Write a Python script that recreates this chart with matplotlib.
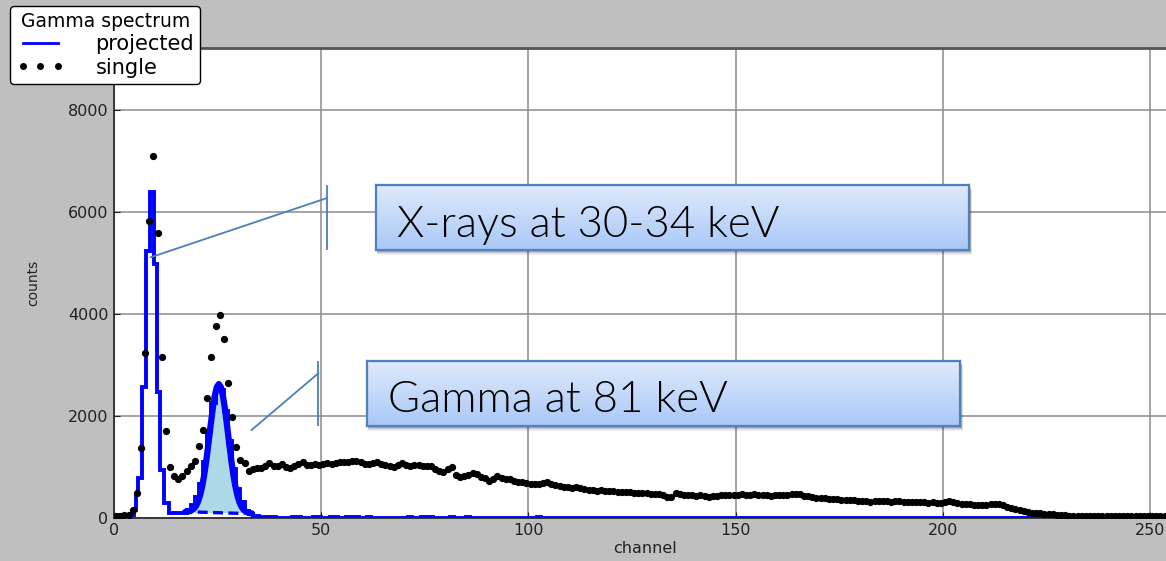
import numpy as np
import matplotlib
matplotlib.use("Agg")
import matplotlib.pyplot as plt
from matplotlib.lines import Line2D
from matplotlib.patches import Rectangle

# single-detector spectrum, one value per channel (plotted at bin centres)
single_counts = [
    30, 35, 40, 55, 147, 481, 1371, 3238, 5825, 7108,
    5584, 3159, 1699, 998, 821, 762, 810, 910, 1012, 1110,
    1411, 1725, 2348, 3147, 3768, 3972, 3513, 2648, 1969, 1391,
    1130, 1065, 920, 947, 965, 978, 1018, 1065, 1010, 1018,
    1045, 990, 966, 1010, 1060, 1097, 1040, 1025, 1050, 1031,
    1050, 1070, 1060, 1065, 1085, 1090, 1100, 1105, 1110, 1095,
    1060, 1045, 1070, 1084, 1060, 1040, 1020, 998, 1040, 1065,
    1040, 1020, 1035, 1031, 1010, 1015, 1012, 960, 920, 900,
    945, 986, 840, 790, 810, 840, 868, 850, 800, 770,
    723, 760, 815, 780, 760, 750, 720, 700, 690, 672,
    665, 660, 658, 670, 690, 650, 640, 620, 600, 590,
    574, 590, 575, 555, 540, 545, 530, 535, 521, 530,
    515, 510, 507, 500, 495, 490, 488, 475, 480, 470,
    462, 465, 440, 400, 410, 475, 460, 450, 445, 442,
    430, 440, 420, 409, 420, 430, 435, 440, 438, 440,
    442, 460, 440, 450, 462, 440, 450, 445, 430, 440,
    435, 440, 450, 455, 462, 470, 430, 415, 400, 390,
    380, 375, 370, 357, 360, 350, 340, 345, 335, 320,
    315, 325, 311, 320, 315, 325, 320, 310, 320, 315,
    305, 311, 300, 305, 295, 300, 290, 295, 290, 291,
    300, 330, 300, 280, 270, 260, 265, 255, 245, 250,
    255, 260, 270, 265, 240, 215, 190, 161, 145, 130,
    115, 95, 88, 80, 72, 65, 60, 52, 45, 40,
    35, 32, 30, 30, 30, 30, 30, 30, 30, 30,
    30, 30, 30, 30, 30, 30, 30, 30, 30, 30,
    30, 30, 30, 30, 30, 30,
]

# projected (coincidence-gated) spectrum: irregular bins over the peaks
proj_edges_peak = [0, 4.9, 5.4, 5.85, 6.85, 7.65, 8.8, 9.6, 10.3, 11.2, 12.0,
                   13.2, 17.5, 18.5, 19.5, 20.5, 21.5, 22.5, 23.5, 24.5, 25.5,
                   26.5, 27.5, 28.5, 29.5, 30.5, 31.5, 32.5, 33.5, 35]
proj_counts_peak = [40, 150, 470, 780, 2560, 5230, 6400, 4990, 2460, 930, 290,
                    80, 150, 250, 400, 650, 1100, 1700, 2250, 2550, 2500, 2100,
                    1500, 950, 560, 300, 130, 60, 30]
# above channel 35 the projection is almost empty, a few single counts
proj_tail_channels = [35, 36, 37, 38, 43, 44, 48, 49, 52, 53, 56, 57, 58, 61,
                      71, 74, 75, 76, 81, 85, 102]
proj_tail_level = 15

# gaussian fit of the 81 keV line (sampled) and its linear background
fit_x = np.arange(17.3, 33.35, 0.5)
fit_y = [115, 119, 128, 146, 177, 231, 317, 444, 622, 854, 1138, 1462, 1800,
         2121, 2386, 2561, 2622, 2559, 2382, 2114, 1791, 1451, 1125, 838, 604,
         424, 294, 206, 150, 116, 96, 85, 79]
bg_x = [16.5, 31.5]
bg_y = [115, 78]
fill_lo, fill_hi = 19.5, 31.5
fill_base = 90

n_ch = len(single_counts)
channels = np.arange(n_ch)
tail_edges = np.arange(35, n_ch + 1)
tail_counts = np.zeros(len(tail_edges) - 1)
tail_counts[np.array(proj_tail_channels) - 35] = proj_tail_level
proj_edges = np.concatenate([proj_edges_peak, tail_edges[1:]])
proj_counts = np.concatenate([proj_counts_peak, tail_counts])

W, H = 1166, 561
fig = plt.figure(figsize=(W / 100, H / 100), dpi=100, facecolor="#bfbfbf")
ax = fig.add_axes([114 / W, 1 - 517.5 / H, 1061 / W, (517.5 - 47.7) / H])
ax.set_facecolor("white")

# shaded peak area above the fit background
sel = (proj_edges[:-1] >= fill_lo) & (proj_edges[1:] <= fill_hi)
idx = np.where(sel)[0]
ax.stairs(proj_counts[idx], proj_edges[idx[0]:idx[-1] + 2], baseline=fill_base,
          fill=True, color="lightblue", zorder=1)

ax.stairs(proj_counts, proj_edges, color="blue", lw=2.8, zorder=2)
ax.plot(fit_x, fit_y, color="blue", lw=4.5, solid_capstyle="round", zorder=3)
ax.plot(bg_x, bg_y, color="blue", lw=2.4, ls=(0, (3, 1.6)), zorder=3)
ax.plot(channels + 0.5, single_counts, ls="none", marker="o", ms=4.2,
        mec="black", mfc="black", zorder=4)

ax.set_xlim(0, 256)
ax.set_ylim(0, 9230)
ax.set_xticks([0, 50, 100, 150, 200, 250])
ax.set_yticks([0, 2000, 4000, 6000, 8000])
ax.tick_params(labelsize=11.5, colors="#222222", direction="in", length=4,
               top=False, right=False, pad=4)
ax.grid(True, color="#8c8c8c", lw=1.1)
ax.set_axisbelow(True)
for s in ax.spines.values():
    s.set_color("#222222")
    s.set_linewidth(1.2)
ax.spines["top"].set_linewidth(2)
ax.spines["top"].set_color("#555555")
ax.set_xlabel("channel", fontsize=11.5, color="#222222", labelpad=2)
ax.set_ylabel("counts", fontsize=10, color="#222222", labelpad=20)

# callout lines
callout = "#4a7ebb"
ax.plot([51.4, 51.4], [5275, 6513], color=callout, lw=1.3, zorder=5)
ax.plot([51.4, 8.85], [6277, 5112], color=callout, lw=1.3, zorder=5)
ax.plot([49.3, 49.3], [1817, 3061], color=callout, lw=1.3, zorder=5)
ax.plot([49.3, 33.2], [2833, 1719], color=callout, lw=1.3, zorder=5)

# legend in the top-left corner of the figure
handles = [Line2D([], [], color="blue", lw=2),
           Line2D([], [], ls="none", marker="o", ms=4, color="black")]
leg = fig.legend(handles, ["projected", "single"], title="Gamma spectrum",
                 loc="upper left", bbox_to_anchor=(10 / W, 1 - 6 / H),
                 borderaxespad=0, fontsize=15, title_fontsize=13.5,
                 numpoints=3, handlelength=2.3, handletextpad=1.5,
                 labelspacing=0.15, borderpad=0.3, fancybox=True,
                 framealpha=1, edgecolor="black")
leg.get_frame().set_linewidth(1.0)

# label boxes with a soft vertical gradient
grad = np.linspace(0, 1, 64).reshape(-1, 1)
box_cmap = matplotlib.colors.LinearSegmentedColormap.from_list(
    "box", ["#dfeafc", "#a9c8f7"])
boxes = [((376, 185, 969, 250), "X-rays at 30-34 keV", 0.205),
         ((367.4, 361, 960, 426), "Gamma at 81 keV", 0.22)]
for (x0, y0, x1, y1), label, ty in boxes:
    for k, a in zip((5, 4, 3, 2), (0.05, 0.08, 0.11, 0.14)):
        fig.patches.append(Rectangle(
            ((x0 + 1) / W, 1 - (y1 + k) / H), (x1 - x0 + k * 0.4) / W,
            (y1 - y0) / H, transform=fig.transFigure, color="black",
            alpha=a, lw=0, zorder=3))
    bx = fig.add_axes([x0 / W, 1 - y1 / H, (x1 - x0) / W, (y1 - y0) / H],
                      zorder=5)
    bx.imshow(grad, aspect="auto", cmap=box_cmap, extent=[0, 1, 0, 1])
    bx.set_xticks([])
    bx.set_yticks([])
    for s in bx.spines.values():
        s.set_color("#4f81bd")
        s.set_linewidth(1.6)
    bx.text(0.0346, ty, label, transform=bx.transAxes, fontsize=31.5,
            family="Lato", fontweight=300, color="black", va="baseline",
            ha="left")

fig.savefig("out.png", dpi=100, facecolor=fig.get_facecolor())
